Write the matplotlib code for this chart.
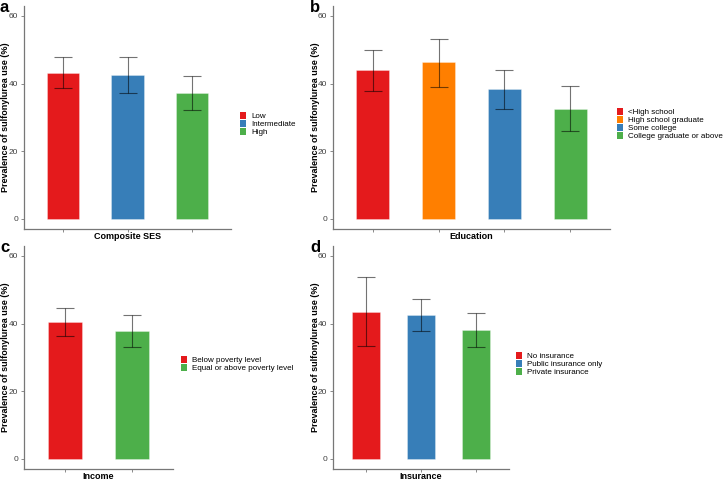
import matplotlib
matplotlib.use("Agg")
import matplotlib.pyplot as plt
from matplotlib.patches import Patch

plt.rcParams['font.family'] = ['Liberation Sans', 'DejaVu Sans']

RED = "#E41A1C"
BLUE = "#377EB8"
GREEN = "#4DAF4A"
ORANGE = "#FF7F00"

# panel a: composite SES
ses_labels = ["Low", "Intermediate", "High"]
ses_vals = [43.2, 42.5, 37.1]
ses_lo = [38.6, 37.2, 32.2]
ses_hi = [47.8, 48.0, 42.2]
ses_cols = [RED, BLUE, GREEN]

# panel b: education
edu_labels = ["<High school", "High school graduate", "Some college", "College graduate or above"]
edu_vals = [44.0, 46.3, 38.3, 32.6]
edu_lo = [37.9, 39.1, 32.6, 25.9]
edu_hi = [50.0, 53.3, 44.1, 39.4]
edu_cols = [RED, ORANGE, BLUE, GREEN]

# panel c: income
inc_labels = ["Below poverty level", "Equal or above poverty level"]
inc_vals = [40.5, 37.9]
inc_lo = [36.3, 33.1]
inc_hi = [44.6, 42.6]
inc_cols = [RED, GREEN]

# panel d: insurance
ins_labels = ["No insurance", "Public insurance only", "Private insurance"]
ins_vals = [43.5, 42.5, 38.2]
ins_lo = [33.4, 37.8, 33.1]
ins_hi = [53.7, 47.2, 43.1]
ins_cols = [RED, BLUE, GREEN]

fig = plt.figure(figsize=(7.26, 4.8), dpi=100)

W, H = 726.0, 480.0


def panel(rect_px, letter, letter_xy, xlabel, labels, vals, lo, hi, cols, leg_gap):
    left, top, right, bottom = rect_px
    aw, ah = right - left, bottom - top
    ax = fig.add_axes([left / W, (H - bottom) / H, aw / W, ah / H])
    n = len(vals)
    xs = list(range(1, n + 1))
    ax.bar(xs, vals, width=0.5, color=cols, edgecolor=(1, 1, 1, 0.35), linewidth=0.6, zorder=2)
    err_lo = [v - l for v, l in zip(vals, lo)]
    err_hi = [h - v for v, h in zip(vals, hi)]
    ax.errorbar(xs, vals, yerr=[err_lo, err_hi], fmt="none", ecolor="black", alpha=0.55,
                elinewidth=0.8, capsize=6.5, capthick=0.8, zorder=3)
    ax.set_xlim(0.4, n + 0.6)
    ax.set_ylim(-3, 63)
    ax.set_yticks([0, 20, 40, 60])
    ax.set_xticks(xs)
    ax.set_xticklabels([])
    for s in ["top", "right"]:
        ax.spines[s].set_visible(False)
    for s in ["left", "bottom"]:
        ax.spines[s].set_color("#777777")
        ax.spines[s].set_linewidth(0.9)
    ax.tick_params(axis="both", colors="#777777", length=2.5, width=0.6, labelsize=6,
                   labelcolor="#404040", pad=1.5)
    ax.set_ylabel("Prevalence of sulfonylurea use (%)", fontsize=6.5, fontweight="bold",
                  ha="center", va="center")
    ax.yaxis.set_label_coords((6 - 24) / aw, 0.5)
    ax.set_xlabel(xlabel, fontsize=6.5, fontweight="bold", ha="center", va="center")
    ax.xaxis.set_label_coords(0.5, -7.5 / ah)
    handles = [Patch(facecolor=c, edgecolor="none") for c in cols]
    ax.legend(handles, labels, loc="center left",
              bbox_to_anchor=(1 + leg_gap / aw, 0.47),
              frameon=False, fontsize=5.8, handlelength=0.8, handleheight=0.9,
              handletextpad=0.55, labelspacing=0.0, borderpad=0, borderaxespad=0)
    fig.text(letter_xy[0] / W, 1 - letter_xy[1] / H, letter, fontsize=12, fontweight="bold",
             va="top", ha="left")
    return ax


panel((24, 5.8, 231, 229), "a", (0, 0), "Composite SES",
      ses_labels, ses_vals, ses_lo, ses_hi, ses_cols, 9)
panel((333, 5.8, 610, 229), "b", (310, 0), "Education",
      edu_labels, edu_vals, edu_lo, edu_hi, edu_cols, 7)
panel((24, 245.8, 173, 469), "c", (0, 240), "Income",
      inc_labels, inc_vals, inc_lo, inc_hi, inc_cols, 8)
panel((333, 245.8, 509, 469), "d", (310, 240), "Insurance",
      ins_labels, ins_vals, ins_lo, ins_hi, ins_cols, 7)

fig.savefig("out.png", dpi=100)
